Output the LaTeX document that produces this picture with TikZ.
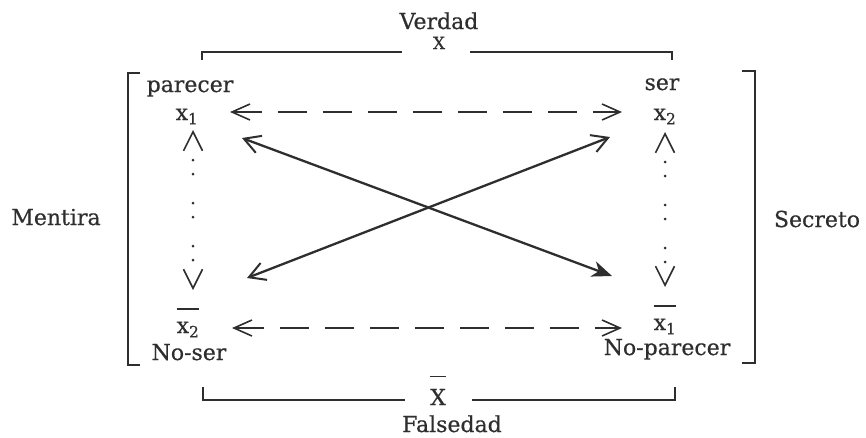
\documentclass[tikz,border=0pt]{standalone}
\usepackage{fontspec}
\setmainfont{DejaVu Serif}[FakeBold=0.5]
\usetikzlibrary{arrows.meta}
\definecolor{ink}{HTML}{2E2E2E}
\newcommand\ovl[1]{\vbox{\hrule height 1.3pt\kern 12pt\hbox{#1}}}
\begin{document}
\begin{tikzpicture}[x=1pt,y=-1pt,
  txt/.style={font=\fontsize{22}{26}\selectfont, inner sep=0pt, anchor=base, text=ink},
  small/.style={font=\fontsize{17}{20}\selectfont},
  rule/.style={draw=ink, line width=1.5pt},
  dashar/.style={draw=ink, line width=1.6pt, dash pattern=on 29pt off 16pt, {Straight Barb[length=18pt,width=16pt,line width=1.6pt]}-{Straight Barb[length=18pt,width=16pt,line width=1.6pt]}},
  vtips/.style={draw=ink, line width=1.6pt, line cap=butt, dash pattern=on 0pt off 1000pt, {Straight Barb[length=19pt,width=19pt,line width=1.6pt]}-{Straight Barb[length=19pt,width=19pt,line width=1.6pt]}},
  vdots/.style={draw=ink, line width=3pt, line cap=round, dash pattern=on 0pt off 14pt on 0pt off 29pt},
  diag/.style={draw=ink, line width=2.3pt}
]
\useasboundingbox (0,0) rectangle (866,437);

% texts
\node[txt] (verdad) at (439,29) {Verdad};
\node[txt,small] (Xtop) at (439,49) {X};
\node[txt] (parecer) at (190,92) {parecer};
\node[txt] (xa) at (187,120) {x\textsubscript{1}};
\node[txt] (ser) at (662,90) {ser};
\node[txt] (xb) at (665,120) {x\textsubscript{2}};
\node[txt] (xbb) at (188,333) {\ovl{x\textsubscript{2}}};
\node[txt] (noser) at (189,360) {No-ser};
\node[txt] (xab) at (665,330) {\ovl{x\textsubscript{1}}};
\node[txt] (noparecer) at (667,355) {No-parecer};
\node[txt] (Xbot) at (438,405) {\ovl{X}};
\node[txt] (falsedad) at (452,432) {Falsedad};
\node[txt] (mentira) at (56,225) {Mentira};
\node[txt] (secreto) at (817,227) {Secreto};

% top and bottom brackets
\draw[rule] (202,60) -- (202,52) -- (402,52);
\draw[rule] (470,52) -- (672,52) -- (672,60);
\draw[rule] (203,387) -- (203,400) -- (405,400);
\draw[rule] (472,400) -- (675,400) -- (675,387);
% side brackets
\draw[rule] (140,73) -- (128,73) -- (128,365) -- (140,365);
\draw[rule] (742,71) -- (755,71) -- (755,363) -- (742,363);

% connector end points
\coordinate (ht1) at (230,112); \coordinate (ht2) at (622,112);
\coordinate (hb1) at (232,328); \coordinate (hb2) at (622,328);
\coordinate (vl1) at (193,130); \coordinate (vl2) at (193,290);
\coordinate (vr1) at (665,132); \coordinate (vr2) at (665,287);
\coordinate (d1a) at (242,138); \coordinate (d1b) at (612,276);
\coordinate (d2a) at (247,278); \coordinate (d2b) at (610,137);

\draw[dashar] (ht1) -- (ht2);
\draw[dashar] (hb1) -- (hb2);
\draw[vtips] (vl1) -- (vl2);
\draw[vtips] (vr1) -- (vr2);
\draw[vdots] ([yshift=-30]vl1) -- ([yshift=28]vl2);
\draw[vdots] ([yshift=-30]vr1) -- ([yshift=24]vr2);
\draw[diag, {Straight Barb[length=16pt,width=18pt,line width=2pt]}-{Stealth[length=20pt,width=16pt,inset=6pt]}] (d1a) -- (d1b);
\draw[diag, {Straight Barb[length=16pt,width=18pt,line width=2pt]}-{Straight Barb[length=16pt,width=18pt,line width=2pt]}] (d2a) -- (d2b);
\end{tikzpicture}
\end{document}
